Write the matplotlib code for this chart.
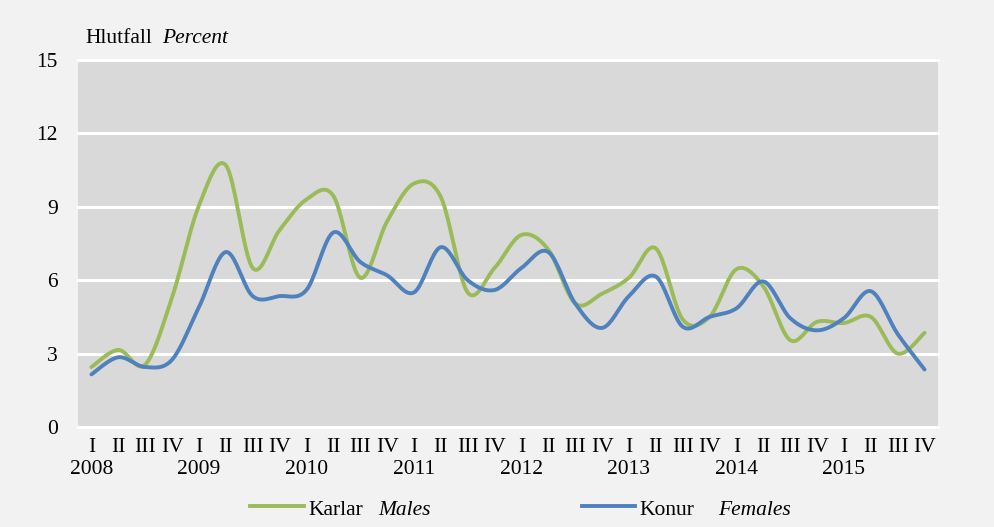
import numpy as np
import matplotlib
matplotlib.use("Agg")
import matplotlib.pyplot as plt
from matplotlib.lines import Line2D

years = ["2008", "2009", "2010", "2011", "2012", "2013", "2014", "2015"]
quarters = ["I", "II", "III", "IV"]
males = [2.45, 3.15, 2.55, 5.3, 9.05, 10.7, 6.5, 8.05, 9.3, 9.45, 6.1, 8.4,
         9.95, 9.4, 5.5, 6.5, 7.85, 7.25, 5.05, 5.45, 6.1, 7.3, 4.4, 4.5,
         6.45, 5.75, 3.55, 4.3, 4.25, 4.5, 3.0, 3.85]
females = [2.15, 2.85, 2.45, 2.75, 4.9, 7.15, 5.35, 5.35, 5.6, 7.95, 6.75, 6.2,
           5.5, 7.35, 6.0, 5.6, 6.5, 7.15, 5.05, 4.05, 5.35, 6.15, 4.1, 4.5,
           4.85, 5.95, 4.45, 3.95, 4.45, 5.55, 3.8, 2.35]
yticks = [0, 3, 6, 9, 12, 15]

GREEN = "#9bbb59"
BLUE = "#4f81bd"
SERIF = ["Liberation Serif", "DejaVu Serif"]
FS = 15.5
LW = 2.8


def smooth(y, n=20):
    """Catmull-Rom style Bezier smoothing through the points (like Excel)."""
    y = np.asarray(y, float)
    x = np.arange(len(y), dtype=float)
    px = np.concatenate([[x[0]], x, [x[-1]]])
    py = np.concatenate([[y[0]], y, [y[-1]]])
    xs, ys = [], []
    t = np.linspace(0, 1, n, endpoint=False)
    for i in range(len(y) - 1):
        p0 = np.array([x[i], y[i]])
        p3 = np.array([x[i + 1], y[i + 1]])
        prev = np.array([px[i], py[i]])
        nxt = np.array([px[i + 3], py[i + 3]])
        c1 = p0 + (p3 - prev) / 6.0
        c2 = p3 - (nxt - p0) / 6.0
        b = ((1 - t) ** 3)[:, None] * p0 + (3 * (1 - t) ** 2 * t)[:, None] * c1 \
            + (3 * (1 - t) * t ** 2)[:, None] * c2 + (t ** 3)[:, None] * p3
        xs.append(b[:, 0]); ys.append(b[:, 1])
    xs.append([x[-1]]); ys.append([y[-1]])
    return np.concatenate(xs), np.concatenate(ys)


W, H = 995, 527
fig = plt.figure(figsize=(W / 100, H / 100), dpi=100, facecolor="#f2f2f2")
L, R, T, B = 78, 938, 60, 427
ax = fig.add_axes([L / W, 1 - B / H, (R - L) / W, (B - T) / H])
ax.set_facecolor("#d9d9d9")

n = len(males)
ax.set_xlim(-0.5, n - 0.5)
ax.set_ylim(0, 15)
for s in ax.spines.values():
    s.set_visible(False)
for yv in yticks:
    ax.axhline(yv, color="white", lw=2.2, zorder=1, clip_on=False)

mx, my = smooth(males)
fx, fy = smooth(females)
ax.plot(mx, my, color=GREEN, lw=LW, zorder=3, solid_capstyle="round")
ax.plot(fx, fy, color=BLUE, lw=LW, zorder=4, solid_capstyle="round")

ax.set_yticks(yticks)
ax.set_yticklabels([str(v) for v in yticks], family=SERIF, fontsize=FS)
ax.tick_params(axis="y", length=0, pad=14.4)

labels = [q for _ in years for q in quarters]
ax.set_xticks(range(n))
ax.set_xticklabels(labels, family=SERIF, fontsize=FS)
ax.tick_params(axis="x", length=0, pad=7.9)
for i, yr in enumerate(years):
    ax.text(i * 4, -(460 - B) / (B - T), yr, transform=ax.get_xaxis_transform(),
            ha="center", va="top", family=SERIF, fontsize=FS)

ty = 1 - 43 / H
fig.text(85 / W, ty, "Hlutfall", family=SERIF, fontsize=FS,
         ha="left", va="baseline")
fig.text(162 / W, ty, "Percent", family=SERIF, fontsize=FS,
         style="italic", ha="left", va="baseline")

ly = 1 - 506 / H
lb = 1 - 515 / H
fig.add_artist(Line2D([250 / W, 304 / W], [ly, ly], color=GREEN, lw=LW))
fig.text(308 / W, lb, "Karlar", family=SERIF, fontsize=FS, ha="left", va="baseline")
fig.text(378 / W, lb, "Males", family=SERIF, fontsize=FS, style="italic",
         ha="left", va="baseline")
fig.add_artist(Line2D([582 / W, 635 / W], [ly, ly], color=BLUE, lw=LW))
fig.text(639 / W, lb, "Konur", family=SERIF, fontsize=FS, ha="left", va="baseline")
fig.text(718 / W, lb, "Females", family=SERIF, fontsize=FS, style="italic",
         ha="left", va="baseline")

fig.savefig("out.png", dpi=100, facecolor=fig.get_facecolor())
